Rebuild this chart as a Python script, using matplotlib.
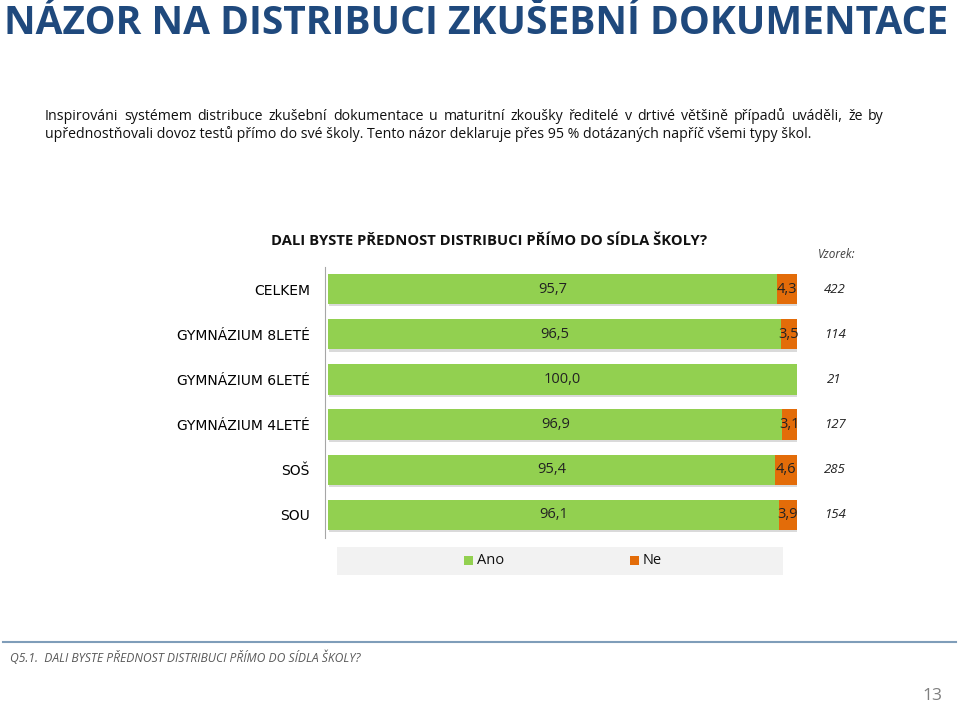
import matplotlib
matplotlib.use("Agg")
import matplotlib.pyplot as plt
from matplotlib.patches import Rectangle

categories = ["CELKEM", "GYMNÁZIUM 8LETÉ", "GYMNÁZIUM 6LETÉ", "GYMNÁZIUM 4LETÉ", "SOŠ", "SOU"]
ano = [95.7, 96.5, 100.0, 96.9, 95.4, 96.1]
ne = [4.3, 3.5, 0.0, 3.1, 4.6, 3.9]
vzorek = [422, 114, 21, 127, 285, 154]

GREEN = "#92D050"
ORANGE = "#E36C09"
TITLE_BLUE = "#1F497D"

narrow = "Open Sans"

W, H = 959, 704
fig = plt.figure(figsize=(W / 100, H / 100), dpi=100)

def fx(px):
    return px / W

def fy(py):
    return 1 - py / H

# Title
fig.text(fx(4), fy(23), "NÁZOR NA DISTRIBUCI ZKUŠEBNÍ DOKUMENTACE", fontsize=28.1, fontweight="bold",
         color=TITLE_BLUE, family=narrow, va="center", ha="left")

# Paragraph (first line justified)
line1 = "Inspirováni systémem distribuce zkušební dokumentace u maturitní zkoušky ředitelé v drtivé většině případů uváděli, že by"
line2 = "upřednostňovali dovoz testů přímo do své školy. Tento názor deklaruje přes 95 % dotázaných napříč všemi typy škol."
words = line1.split(" ")
renderer = fig.canvas.get_renderer()
wtexts = []
for w in words:
    t = fig.text(0, fy(119.5), w, fontsize=10.2, family=narrow, va="baseline", ha="left", color="#111111")
    wtexts.append(t)
widths = [t.get_window_extent(renderer).width for t in wtexts]
left, right = 45, 884
gap = (right - left - sum(widths)) / (len(words) - 1)
xcur = left
for t, wd in zip(wtexts, widths):
    t.set_x(fx(xcur))
    xcur += wd + gap
fig.text(fx(45), fy(138.5), line2, fontsize=10.2, family=narrow, va="baseline", ha="left", color="#111111")

# Chart title
fig.text(fx(271), fy(241), "DALI BYSTE PŘEDNOST DISTRIBUCI PŘÍMO DO SÍDLA ŠKOLY?", fontsize=10.6, fontweight="bold",
         family=narrow, va="center", ha="left", color="#111111")
fig.text(fx(837), fy(254), "Vzorek:", fontsize=8.5, style="italic", family=narrow, va="center", ha="center", color="#404040")

# Axes
x0, x1 = 328, 797
ytop, ybot = 266.5, 537.5
ax = fig.add_axes([fx(x0), fy(ybot), fx(x1) - fx(x0), fy(ytop) - fy(ybot)])
ax.set_xlim(0, 100)
ax.set_ylim(len(categories) - 0.5, -0.5)
ypos = list(range(len(categories)))
h = 0.67
# shadow
ax.barh([y + 0.05 for y in ypos], [a + n for a, n in zip(ano, ne)], left=0.3, height=h, color="#DADADA", zorder=1)
ax.barh(ypos, ano, height=h, color=GREEN, zorder=2)
ax.barh(ypos, ne, left=ano, height=h, color=ORANGE, zorder=2)
for y, a, n, v in zip(ypos, ano, ne, vzorek):
    ax.text(a / 2, y, f"{a:.1f}".replace(".", ","), ha="center", va="center", fontsize=10.5, family=narrow, color="#222222", zorder=3)
    if n > 0:
        ax.text(a + n / 2, y, f"{n:.1f}".replace(".", ","), ha="center", va="center", fontsize=10.5, family=narrow, color="#222222", zorder=3)
    ax.text(108, y, str(v), ha="center", va="center", fontsize=9.5, style="italic", family=narrow, color="#222222", clip_on=False)
ax.set_yticks(ypos)
ax.set_yticklabels(categories, fontsize=9.4, family=narrow, color="#222222")
ax.tick_params(axis="y", length=0, pad=11)
ax.set_xticks([])
for s in ["top", "right", "bottom"]:
    ax.spines[s].set_visible(False)
ax.spines["left"].set_position(("axes", -0.006))
ax.spines["left"].set_color("#A6A6A6")
ax.patch.set_alpha(0)

# Legend box
fig.patches.append(Rectangle((fx(337), fy(575)), fx(783) - fx(337), fy(547) - fy(575), transform=fig.transFigure,
                             facecolor="#F2F2F2", edgecolor="none"))
fig.patches.append(Rectangle((fx(464), fy(565)), fx(9), fy(556) - fy(565), transform=fig.transFigure, facecolor=GREEN, edgecolor="none"))
fig.text(fx(477), fy(561), "Ano", fontsize=10.5, family=narrow, va="center", ha="left", color="#111111")
fig.patches.append(Rectangle((fx(630), fy(565)), fx(9), fy(556) - fy(565), transform=fig.transFigure, facecolor=ORANGE, edgecolor="none"))
fig.text(fx(643), fy(561), "Ne", fontsize=10.5, family=narrow, va="center", ha="left", color="#111111")

# Footer
fig.add_artist(plt.Line2D([fx(3), fx(956)], [fy(642), fy(642)], transform=fig.transFigure, color="#7F9DB9", lw=1.5))
fig.text(fx(10), fy(658), "Q5.1.  DALI BYSTE PŘEDNOST DISTRIBUCI PŘÍMO DO SÍDLA ŠKOLY?", fontsize=8.7, style="italic",
         family=narrow, va="center", ha="left", color="#595959")
fig.text(fx(942), fy(696), "13", fontsize=12.5, family=narrow, va="center", ha="right", color="#7F7F7F")

fig.savefig("out.png", dpi=100)
